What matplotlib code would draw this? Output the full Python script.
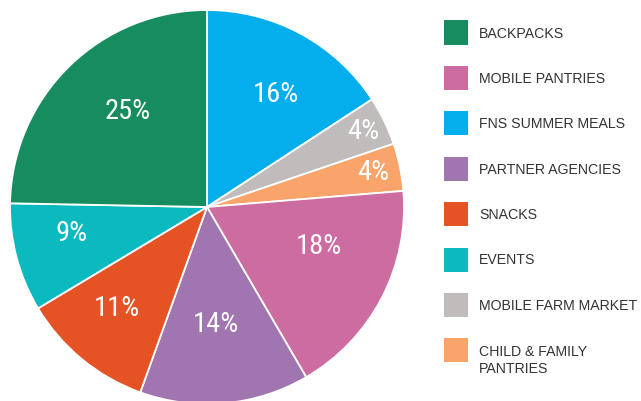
import matplotlib
matplotlib.use('Agg')
import numpy as np
import matplotlib.pyplot as plt
import matplotlib.patches as patches
from matplotlib import font_manager

# legend order
categories = ['BACKPACKS', 'MOBILE PANTRIES', 'FNS SUMMER MEALS', 'PARTNER AGENCIES',
              'SNACKS', 'EVENTS', 'MOBILE FARM MARKET', 'CHILD & FAMILY\nPANTRIES']
shares = [24.7, 17.9, 15.8, 13.9, 10.9, 8.9, 4.0, 3.9]
colors = ['#178D5F', '#CC6CA0', '#04AEEC', '#A075B0',
          '#E55325', '#0BBABF', '#C0BCBC', '#F8A46B']
# slice order, clockwise from 12 o'clock
pie_order = [2, 6, 7, 1, 3, 4, 5, 0]
# label placement tweaks per slice (radius fraction, angle nudge in deg)
label_dist = [0.67, 0.88, 0.86, 0.60, 0.60, 0.69, 0.70, 0.63]
label_nudge = [-3, 0, 0, 8, -1, -2, -4, -5]

W, H = 641, 401
installed = {f.name for f in font_manager.fontManager.ttflist}
cond_font = next((n for n in ['Roboto Condensed', 'Liberation Sans Narrow',
                              'Open Sans Condensed', 'DejaVu Sans Condensed', 'Roboto']
                  if n in installed), 'DejaVu Sans')

fig = plt.figure(figsize=(W / 100, H / 100), dpi=100)
cx, cy, r = 207, 207, 197
ax = fig.add_axes([(cx - r) / W, (H - cy - r) / H, 2 * r / W, 2 * r / H])

vals = [shares[i] for i in pie_order]
wedges, _ = ax.pie(vals, colors=[colors[i] for i in pie_order], startangle=90,
                   counterclock=False, radius=1,
                   wedgeprops=dict(edgecolor='white', linewidth=1.3))
for w, v, d, nd in zip(wedges, vals, label_dist, label_nudge):
    mid = np.deg2rad((w.theta1 + w.theta2) / 2 + nd)
    ax.text(d * np.cos(mid), d * np.sin(mid), f'{v:.0f}%', color='white',
            fontsize=20.5, family=cond_font, ha='center', va='center')
ax.set_xlim(-1, 1)
ax.set_ylim(-1, 1)
ax.set_aspect('equal')
ax.axis('off')

# legend, drawn by hand in pixel positions
for k, name in enumerate(categories):
    yc = 32.5 + k * 45.4
    fig.add_artist(patches.Rectangle((444 / W, 1 - (yc + 12) / H), 24 / W, 24 / H,
                                     transform=fig.transFigure, color=colors[k], lw=0))
    base = yc + 5 + 17.5 * name.count('\n')
    fig.text(479 / W, 1 - base / H, name, fontsize=10.2, family='Liberation Sans',
             color='#333333', va='baseline', ha='left', linespacing=1.25)

fig.savefig('out.png', dpi=100)
